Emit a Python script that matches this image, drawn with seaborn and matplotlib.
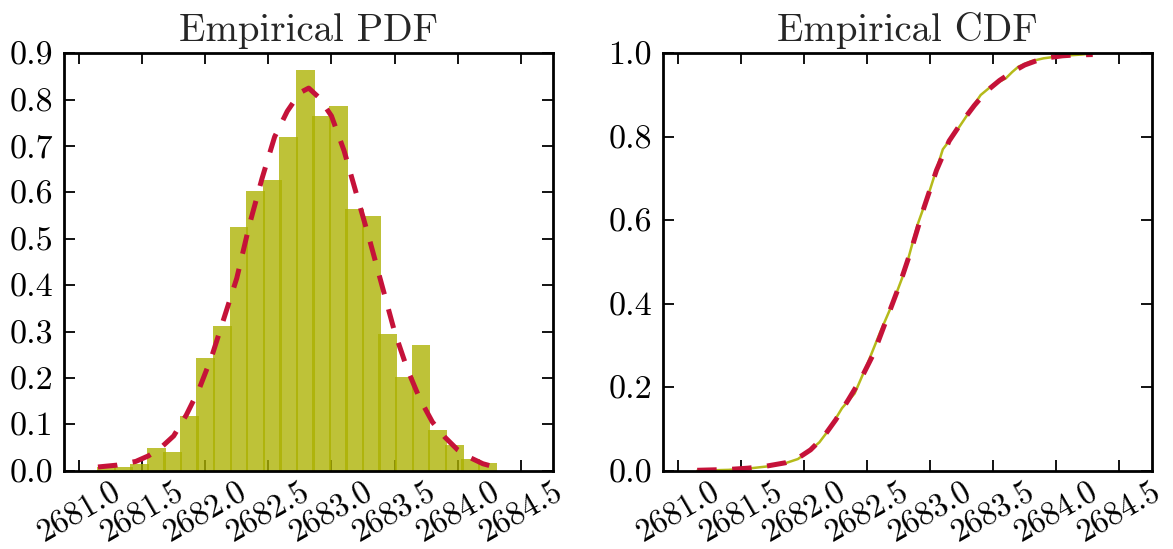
import numpy as np
import pandas as pd
import matplotlib
matplotlib.use("Agg")
import matplotlib.pyplot as plt
import seaborn as sns

# ---------------- data ----------------
bin_lo, bin_hi, n_bins = 2681.153, 2684.30, 24
pdf_heights = [0.008, 0.009, 0.015, 0.049, 0.041, 0.119, 0.242, 0.311,
               0.526, 0.603, 0.626, 0.719, 0.865, 0.764, 0.787, 0.565,
               0.550, 0.294, 0.203, 0.271, 0.087, 0.056, 0.025, 0.017]

kde_x = [2681.15, 2681.30, 2681.45, 2681.55, 2681.65, 2681.75, 2681.85, 2681.95,
         2682.05, 2682.15, 2682.25, 2682.35, 2682.45, 2682.55, 2682.65, 2682.75,
         2682.82, 2682.90, 2683.00, 2683.10, 2683.20, 2683.30, 2683.40, 2683.50,
         2683.60, 2683.70, 2683.80, 2683.90, 2684.00, 2684.10, 2684.20, 2684.28]
kde_y = [0.008, 0.012, 0.020, 0.032, 0.050, 0.075, 0.120, 0.175,
         0.245, 0.330, 0.415, 0.530, 0.630, 0.720, 0.775, 0.815,
         0.825, 0.805, 0.765, 0.690, 0.595, 0.500, 0.400, 0.300,
         0.220, 0.155, 0.105, 0.072, 0.045, 0.028, 0.015, 0.009]

ecdf_x = [2681.15, 2681.40, 2681.55, 2681.70, 2681.85, 2681.95, 2682.05, 2682.12,
          2682.20, 2682.30, 2682.40, 2682.50, 2682.60, 2682.70, 2682.80, 2682.90,
          2683.00, 2683.10, 2683.20, 2683.30, 2683.40, 2683.50, 2683.60, 2683.65,
          2683.70, 2683.80, 2683.90, 2684.00, 2684.10, 2684.20, 2684.30]
ecdf_y = [0.000, 0.002, 0.005, 0.010, 0.018, 0.028, 0.050, 0.068,
          0.100, 0.150, 0.185, 0.255, 0.330, 0.400, 0.480, 0.590,
          0.675, 0.770, 0.810, 0.855, 0.900, 0.925, 0.940, 0.955,
          0.968, 0.981, 0.988, 0.992, 0.995, 0.997, 1.000]

kcdf_x = [2681.15, 2681.40, 2681.55, 2681.70, 2681.85, 2681.95, 2682.05, 2682.15,
          2682.25, 2682.35, 2682.45, 2682.55, 2682.65, 2682.75, 2682.85, 2682.95,
          2683.05, 2683.15, 2683.25, 2683.35, 2683.45, 2683.55, 2683.65, 2683.75,
          2683.85, 2683.95, 2684.05, 2684.15, 2684.29]
kcdf_y = [0.001, 0.003, 0.006, 0.011, 0.019, 0.030, 0.050, 0.080,
          0.122, 0.170, 0.220, 0.280, 0.360, 0.440, 0.530, 0.630,
          0.720, 0.790, 0.835, 0.875, 0.910, 0.935, 0.955, 0.972,
          0.983, 0.990, 0.994, 0.996, 0.997]

x_ticks = [2681.0, 2681.5, 2682.0, 2682.5, 2683.0, 2683.5, 2684.0, 2684.5]
pdf_yticks = [0.0, 0.1, 0.2, 0.3, 0.4, 0.5, 0.6, 0.7, 0.8, 0.9]
cdf_yticks = [0.0, 0.2, 0.4, 0.6, 0.8, 1.0]
titles = ["Empirical PDF", "Empirical CDF"]

# ---------------- style ----------------
sns.set_theme(style="ticks")
plt.rcParams.update({
    "font.family": ["cmr10", "DejaVu Serif"],
    "axes.formatter.use_mathtext": True,
    "axes.linewidth": 2.0,
    "axes.edgecolor": "black",
    "xtick.direction": "in", "ytick.direction": "in",
    "xtick.top": True, "ytick.right": True,
    "xtick.major.size": 8, "ytick.major.size": 8,
    "xtick.major.width": 1.3, "ytick.major.width": 1.3,
    "xtick.color": "black", "ytick.color": "black",
    "xtick.labelsize": 23.5, "ytick.labelsize": 24.5,
    "xtick.major.pad": 5, "ytick.major.pad": 8,
})

OLIVE_FACE = "#acb100"
OLIVE_LINE = "#b5ba1a"
CRIMSON = "#c51239"
DASH = (3.9, 3.1)

fig = plt.figure(figsize=(11.73, 5.49), dpi=100)
W, H = 1173, 549
ax1 = fig.add_axes([64 / W, (H - 470.7) / H, 489.3 / W, 417.4 / H])
ax2 = fig.add_axes([663.3 / W, (H - 470.7) / H, 488.4 / W, 417.4 / H])

edges = np.linspace(bin_lo, bin_hi, n_bins + 1)
centers = (edges[:-1] + edges[1:]) / 2
hist_df = pd.DataFrame({"value": centers, "density": pdf_heights})

sns.histplot(data=hist_df, x="value", weights="density", bins=n_bins,
             binrange=(bin_lo, bin_hi), stat="count",
             color=OLIVE_FACE, alpha=0.78, linewidth=0, shrink=1.14, ax=ax1)
sns.lineplot(x=kde_x, y=kde_y, color=CRIMSON, linewidth=3.6, ax=ax1)
ax1.lines[-1].set_dashes(DASH)

sns.lineplot(x=ecdf_x, y=ecdf_y, color=OLIVE_LINE, linewidth=1.8, ax=ax2)
sns.lineplot(x=kcdf_x, y=kcdf_y, color=CRIMSON, linewidth=3.6, ax=ax2)
ax2.lines[-1].set_dashes(DASH)

for ax, yt, ylim, title in [(ax1, pdf_yticks, (0, 0.9), titles[0]),
                            (ax2, cdf_yticks, (0, 1.0), titles[1])]:
    ax.set_xlim(2680.881, 2684.758)
    ax.set_ylim(*ylim)
    ax.set_xticks(x_ticks)
    ax.set_xticklabels([f"{t:.1f}" for t in x_ticks], rotation=30, ha="center")
    ax.set_yticks(yt)
    ax.set_yticklabels([f"{t:.1f}" for t in yt])
    ax.set_xlabel("")
    ax.set_ylabel("")
    ax.set_title(title, fontsize=28, pad=9)
    for s in ax.spines.values():
        s.set_visible(True)
        s.set_linewidth(2.0)
        s.set_color("black")
    ax.tick_params(which="both", top=True, right=True, direction="in")

fig.savefig("out.png", dpi=100)
